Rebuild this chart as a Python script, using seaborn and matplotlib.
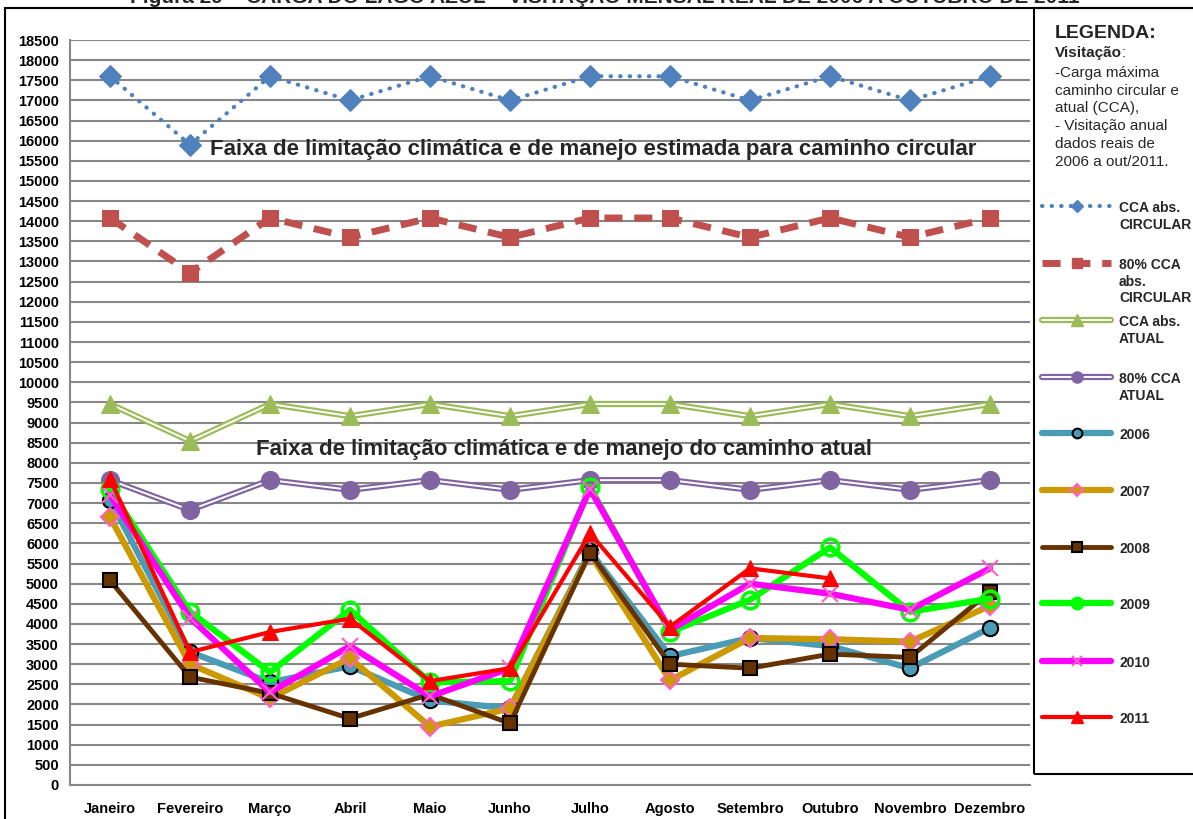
import numpy as np
import matplotlib.pyplot as plt
import seaborn as sns
from matplotlib.lines import Line2D
from matplotlib.patches import Rectangle

# ── Dados ─────────────────────────────────────────────────────────────────────
meses = ["Janeiro", "Fevereiro", "Março", "Abril", "Maio", "Junho", "Julho",
         "Agosto", "Setembro", "Outubro", "Novembro", "Dezembro"]

cca_circular   = [17600, 15900, 17600, 17000, 17600, 17000, 17600, 17600, 17000, 17600, 17000, 17600]
cca80_circular = [14080, 12720, 14080, 13600, 14080, 13600, 14080, 14080, 13600, 14080, 13600, 14080]
cca_atual      = [9460, 8540, 9460, 9160, 9460, 9160, 9460, 9460, 9160, 9460, 9160, 9460]
cca80_atual    = [7570, 6830, 7570, 7330, 7570, 7330, 7570, 7570, 7330, 7570, 7330, 7570]

v2006 = [7080, 3300, 2550, 2950, 2100, 1900, 5800, 3200, 3650, 3450, 2900, 3900]
v2007 = [6650, 3000, 2150, 3150, 1450, 1900, 5750, 2600, 3650, 3620, 3560, 4450]
v2008 = [5080, 2680, 2280, 1650, 2250, 1530, 5770, 3000, 2900, 3250, 3170, 4800]
v2009 = [7340, 4300, 2800, 4350, 2550, 2580, 7400, 3800, 4600, 5900, 4300, 4630]
v2010 = [7200, 4150, 2300, 3450, 2200, 2900, 7350, 3850, 5000, 4750, 4350, 5380]
v2011 = [7600, 3300, 3800, 4130, 2580, 2900, 6250, 3930, 5380, 5130, np.nan, np.nan]

titulo = "Figura 29 – CARGA DO LAGO AZUL – VISITAÇÃO MENSAL REAL DE 2006 A OUTUBRO DE 2011"
faixa_circular = "Faixa de limitação climática e de manejo estimada para caminho circular"
faixa_atual = "Faixa de limitação climática e de manejo do caminho atual"

# ── Estilo ────────────────────────────────────────────────────────────────────
sns.set_theme(style="white")
NARROW = ["Liberation Sans Narrow", "Liberation Sans", "DejaVu Sans"]
ARIAL = ["Liberation Sans", "DejaVu Sans"]
plt.rcParams["font.family"] = NARROW

W, H = 1193, 819
GRID = "#878787"

AZUL, VERMELHO, VERDE, ROXO = "#4F81BD", "#C0504D", "#9BBB59", "#8064A2"
C2006, C2007, C2008, C2009, C2010, C2011 = "#4A9BB5", "#CC9900", "#663300", "#00FF00", "#FF00FF", "#FF0000"
ROSA = "#FF5FC8"

fig = plt.figure(figsize=(W / 100, H / 100), dpi=100)
ax = fig.add_axes([70 / W, 1 - 785 / H, 960 / W, 745 / H])
x = np.arange(len(meses))


def linha(vals, **kw):
    sns.lineplot(x=x, y=vals, ax=ax, sort=False, **kw)


# capacidade - caminho circular
linha(cca_circular, color=AZUL, lw=3, linestyle=(0, (0.1, 2.2)), dash_capstyle="round",
      marker="D", markersize=11, markeredgecolor=AZUL)
linha(cca80_circular, color=VERMELHO, lw=5, linestyle=(0, (2.6, 1.7)),
      marker="s", markersize=12, markeredgecolor=VERMELHO)

# capacidade - caminho atual (linha dupla)
for vals, cor, mk, ms in [(cca_atual, VERDE, "^", 13), (cca80_atual, ROXO, "o", 13)]:
    linha(vals, color=cor, lw=4.5)
    linha(vals, color="white", lw=1.4)
    linha(vals, color=cor, linestyle="none", marker=mk, markersize=ms, markeredgecolor=cor)

# visitação real
linha(v2006, color=C2006, lw=4.5, marker="o", markersize=11,
      markerfacecolor=C2006, markeredgecolor="black", markeredgewidth=1.5)
linha(v2007, color=C2007, lw=4.5, marker="D", markersize=9,
      markerfacecolor=C2007, markeredgecolor=ROSA, markeredgewidth=1.5)
linha(v2008, color=C2008, lw=3.5, marker="s", markersize=10,
      markerfacecolor=C2008, markeredgecolor="black", markeredgewidth=1.5)
linha(v2009, color=C2009, lw=4.5, marker="o", markersize=12,
      markerfacecolor="none", markeredgecolor=C2009, markeredgewidth=2.5)
linha(v2010, color=C2010, lw=4.5, marker="x", markersize=11,
      markeredgecolor=ROSA, markeredgewidth=1.5)
linha(v2011, color=C2011, lw=3, marker="^", markersize=12,
      markerfacecolor=C2011, markeredgecolor=C2011)

# ── Eixos ─────────────────────────────────────────────────────────────────────
ax.set_xlim(-0.5, len(meses) - 0.5)
ax.set_ylim(0, 18500)
ax.set_yticks(np.arange(0, 18501, 500))
ax.set_xticks(x)
ax.set_xticklabels(meses, fontsize=10.5, fontweight="bold")
ax.set_yticklabels([str(v) for v in range(0, 18501, 500)], fontsize=10.5, fontweight="bold")
ax.set_xticks(np.arange(-0.5, len(meses), 1), minor=True)
ax.tick_params(axis="x", which="major", length=0, pad=12, colors="black")
ax.tick_params(axis="x", which="minor", length=5, width=1.5, color=GRID, direction="out")
ax.tick_params(axis="y", length=5, width=1.5, color=GRID, direction="out", pad=3, labelcolor="black")
ax.set_xlabel("")
ax.set_ylabel("")
ax.grid(axis="y", color=GRID, lw=1.5)
ax.grid(axis="x", visible=False)
ax.set_axisbelow(True)
for s in ["top", "right"]:
    ax.spines[s].set_visible(False)
for s in ["left", "bottom"]:
    ax.spines[s].set_color(GRID)
    ax.spines[s].set_linewidth(1.5)

ax.text(6.04, 15770, faixa_circular, ha="center", va="center", fontsize=16, fontweight="bold")
ax.text(5.68, 8320, faixa_atual, ha="center", va="center", fontsize=16, fontweight="bold")

# ── Moldura e título (cortado no topo, como no original) ─────────────────────
fig.patches.append(Rectangle((5 / W, -0.05), 1.1, 1.05 - 8 / H, transform=fig.transFigure,
                             fill=False, edgecolor="black", lw=1.5))
fig.patches.append(Rectangle((1034 / W, 1 - 774 / H), 0.2, (774 - 8) / H, transform=fig.transFigure,
                             fill=False, edgecolor="black", lw=1.5))
fig.text(605 / W, 1 - 3 / H, titulo, ha="center", va="baseline", fontsize=15, fontweight="bold")

# ── Legenda ───────────────────────────────────────────────────────────────────
fig.text(1055 / W, 1 - 33 / H, "LEGENDA:", fontsize=14, fontweight="bold", family=ARIAL, va="center")
t_vis = fig.text(1055 / W, 1 - 53 / H, "Visitação", fontsize=11, fontweight="bold", family=ARIAL, va="center")
ax.annotate(":", xy=(1, 0.5), xycoords=t_vis, va="center", ha="left", fontsize=11, family=ARIAL,
            annotation_clip=False)
fig.text(1055 / W, 1 - 66 / H,
         "-Carga máxima\ncaminho circular e\natual (CCA),\n- Visitação anual\ndados reais de\n2006 a out/2011.",
         fontsize=11, family=ARIAL, va="top", linespacing=1.34)

proxies = [
    (Line2D([], [], color=AZUL, lw=3, linestyle=(0, (0.1, 2.2)), dash_capstyle="round",
            marker="D", markersize=6), "CCA abs.\nCIRCULAR", 207),
    (Line2D([], [], color=VERMELHO, lw=5, linestyle=(0, (2.6, 1.7)),
            marker="s", markersize=7), "80% CCA\nabs.\nCIRCULAR", 264),
    ((Line2D([], [], color=VERDE, lw=4.5), Line2D([], [], color="white", lw=1.4),
      Line2D([], [], color=VERDE, linestyle="none", marker="^", markersize=8)), "CCA abs.\nATUAL", 321),
    ((Line2D([], [], color=ROXO, lw=4.5), Line2D([], [], color="white", lw=1.4),
      Line2D([], [], color=ROXO, linestyle="none", marker="o", markersize=8)), "80% CCA\nATUAL", 378),
    (Line2D([], [], color=C2006, lw=4.5, marker="o", markersize=7, markerfacecolor=C2006,
            markeredgecolor="black", markeredgewidth=1.5), "2006", 434),
    (Line2D([], [], color=C2007, lw=4.5, marker="D", markersize=6, markerfacecolor=C2007,
            markeredgecolor=ROSA, markeredgewidth=1.5), "2007", 491),
    (Line2D([], [], color=C2008, lw=3.5, marker="s", markersize=7, markerfacecolor=C2008,
            markeredgecolor="black", markeredgewidth=1.5), "2008", 548),
    (Line2D([], [], color=C2009, lw=4.5, marker="o", markersize=9, markerfacecolor=C2009,
            markeredgecolor=C2009), "2009", 604),
    (Line2D([], [], color=C2010, lw=4.5, marker="x", markersize=7,
            markeredgecolor=ROSA, markeredgewidth=1.5), "2010", 662),
    (Line2D([], [], color=C2011, lw=3, marker="^", markersize=8,
            markerfacecolor=C2011, markeredgecolor=C2011), "2011", 718),
]

for handle, rotulo, ypix in proxies:
    leg = fig.legend(handles=[handle], labels=[rotulo], loc="upper left",
                     bbox_to_anchor=(1042 / W, 1 - (ypix - 6) / H), bbox_transform=fig.transFigure,
                     frameon=False, borderpad=0, borderaxespad=0, handlelength=5.0,
                     handletextpad=0.55, labelspacing=0,
                     prop=dict(family=NARROW, weight="bold", size=10))
    for t in leg.get_texts():
        t.set_linespacing(1.25)
    for col in leg._legend_handle_box.get_children():
        for row in col.get_children():
            row.align = "top"

fig.savefig("out.png", dpi=100)
